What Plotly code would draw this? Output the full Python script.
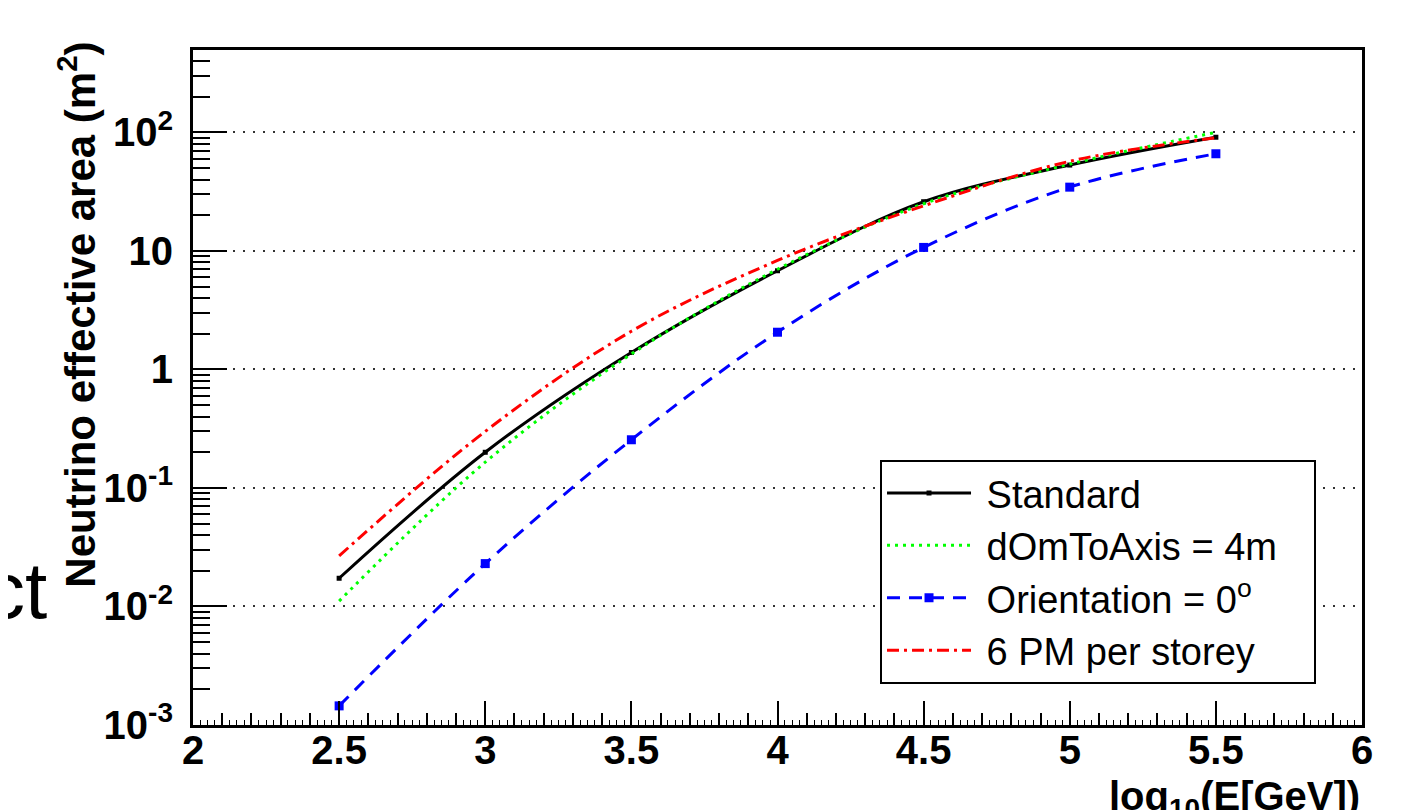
import plotly.graph_objects as go

# Data
log_energy = [2.5, 3.0, 3.5, 4.0, 4.5, 5.0, 5.5]
standard = [0.0173, 0.20, 1.39, 6.8, 26.0, 53.0, 91.0]
dom_to_axis = [0.0111, 0.165, 1.35, 7.0, 25.0, 54.0, 100.0]
orientation0 = [0.00145, 0.023, 0.255, 2.06, 10.7, 34.5, 66.0]
six_pm = [0.0267, 0.30, 2.1, 8.3, 24.0, 57.0, 90.0]

NB = "\u00a0"
series_names = [NB + "Standard",
                NB + "dOmToAxis = 4m" + NB * 3,
                NB + "Orientation = 0<sup>o</sup>",
                NB + "6 PM per storey"]

ytick_vals = [1e-3, 1e-2, 1e-1, 1, 10, 100]
ytick_text = ["10<sup>-3</sup>", "10<sup>-2</sup>", "10<sup>-1</sup>", "1", "10", "10<sup>2</sup>"]

FONT = "Liberation Sans, Arial, Helvetica, sans-serif"

fig = go.Figure()

fig.add_trace(go.Scatter(
    x=log_energy, y=standard, name=series_names[0], mode="lines+markers",
    line=dict(color="#000000", width=3, shape="spline"),
    marker=dict(symbol="square", size=5, color="#000000"),
))
fig.add_trace(go.Scatter(
    x=log_energy, y=dom_to_axis, name=series_names[1], mode="lines",
    line=dict(color="#00ff00", width=3, dash="3px,5px", shape="spline"),
))
fig.add_trace(go.Scatter(
    x=log_energy, y=orientation0, name=series_names[2], mode="lines+markers",
    line=dict(color="#0000ff", width=3, dash="13px,9px", shape="spline"),
    marker=dict(symbol="square", size=9, color="#0000ff"),
))
fig.add_trace(go.Scatter(
    x=log_energy, y=six_pm, name=series_names[3], mode="lines",
    line=dict(color="#ff0000", width=3, dash="12px,5px,3px,5px", shape="spline"),
))
# empty trace to bind the finest-tick overlay axis
fig.add_trace(go.Scatter(x=[], y=[], xaxis="x2", showlegend=False, hoverinfo="skip"))

minor_y = [k * 10 ** n for n in range(-3, 3) for k in range(2, 10)]

fig.update_layout(
    width=1416, height=810,
    template="none",
    paper_bgcolor="white", plot_bgcolor="white",
    margin=dict(l=185, r=62, t=42, b=93, autoexpand=False),
    font=dict(family=FONT, color="black"),
    xaxis=dict(
        range=[2, 6], dtick=0.5, tick0=2,
        showgrid=False, zeroline=False, automargin=False,
        showline=True, linecolor="black", linewidth=3, mirror=True,
        ticks="inside", ticklen=24, tickwidth=2, tickcolor="black",
        ticklabelstandoff=-12,
        tickfont=dict(size=40, family=FONT, weight="bold"),
        minor=dict(dtick=0.1, ticks="inside", ticklen=12, tickwidth=1.5, tickcolor="black", showgrid=False),
    ),
    xaxis2=dict(
        range=[2, 6], overlaying="x", anchor="y", side="bottom",
        dtick=0.025, tick0=2, ticks="inside", ticklen=5, tickwidth=1.2, tickcolor="black",
        showticklabels=False, showgrid=False, zeroline=False, showline=False,
    ),
    yaxis=dict(
        type="log", range=[-3, 2.695],
        tickmode="array", tickvals=ytick_vals, ticktext=ytick_text,
        showgrid=True, gridcolor="#333333", gridwidth=2, griddash="2px,8px",
        zeroline=False, automargin=False,
        showline=True, linecolor="black", linewidth=3, mirror=True,
        ticks="inside", ticklen=34, tickwidth=2, tickcolor="black",
        ticklabelstandoff=9,
        tickfont=dict(size=40, family=FONT, weight="bold"),
        minor=dict(tickmode="array", tickvals=minor_y, ticks="inside", ticklen=17,
                   tickwidth=1.5, tickcolor="black", showgrid=False),
    ),
    legend=dict(
        x=0.5877, y=0.393, xanchor="left", yanchor="top",
        bgcolor="white", bordercolor="black", borderwidth=2,
        font=dict(size=38, family=FONT, color="black"),
        itemwidth=84, tracegroupgap=0,
    ),
    showlegend=True,
)

fig.add_annotation(
    text="Neutrino effective area (m<sup>2</sup>)", textangle=-90,
    xref="paper", yref="paper", x=-0.0994, y=1.015, xanchor="center", yanchor="top",
    showarrow=False, font=dict(size=42, family=FONT, weight="bold", color="black"),
)
fig.add_annotation(
    text="log<sub>10</sub>(E[GeV])",
    xref="paper", yref="paper", x=1.0, y=-0.07, xanchor="right", yanchor="top",
    showarrow=False, font=dict(size=40, family=FONT, weight="bold", color="black"),
)
fig.add_annotation(
    text="ct",
    xref="paper", yref="paper", x=-0.1232, y=0.20, xanchor="right", yanchor="middle",
    showarrow=False, font=dict(size=80, family=FONT, weight="normal", color="black"),
)

fig.write_html("out.html")
